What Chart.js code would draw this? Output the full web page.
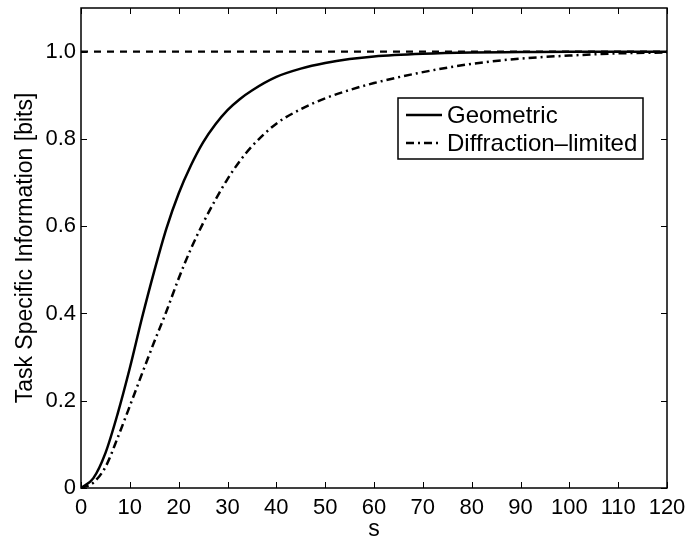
<!DOCTYPE html>
<html>
<head>
<meta charset="utf-8">
<script src="https://cdn.jsdelivr.net/npm/chart.js@4/dist/chart.umd.min.js"></script>
<style>
  html, body { margin: 0; padding: 0; background: #fff; }
  #wrap { width: 689px; height: 543px; }
</style>
</head>
<body>
<div id="wrap"><canvas id="grafico" width="689" height="543"></canvas></div>
<script>
// valores
const sValues = [0, 2.5, 5, 7.5, 10, 12.5, 15, 17.5, 20, 22.5, 25, 27.5, 30, 32.5, 35, 40, 45, 50, 55, 60, 70, 80, 90, 100, 110, 120];
const geometric = [0, 0.022, 0.08, 0.17, 0.275, 0.39, 0.497, 0.595, 0.675, 0.739, 0.792, 0.833, 0.866, 0.891, 0.911, 0.942, 0.961, 0.974, 0.983, 0.989, 0.995, 0.998, 0.999, 1.0, 1.0, 1.0];
const diffraction = [0, 0.012, 0.048, 0.115, 0.188, 0.262, 0.335, 0.405, 0.48, 0.548, 0.607, 0.66, 0.708, 0.749, 0.783, 0.835, 0.868, 0.893, 0.912, 0.928, 0.953, 0.972, 0.984, 0.991, 0.996, 0.998];
const refLevel = 1.0;
const xTicks = [0, 10, 20, 30, 40, 50, 60, 70, 80, 90, 100, 110, 120];
const yTicks = [0, 0.2, 0.4, 0.6, 0.8, 1.0];
const legendLabels = ['Geometric', 'Diffraction\u2013limited'];

const FONT = 'Liberation Sans, Arial, Helvetica, sans-serif';

const toPoints = (xs, ys) => xs.map((x, i) => ({ x: x, y: ys[i] }));

// ejes tipo MATLAB: caja y marcas hacia dentro
const boxPlugin = {
    id: 'boxPlugin',
    afterDraw(chart) {
        const { ctx, chartArea: a, scales } = chart;
        const len = 6;
        ctx.save();
        ctx.strokeStyle = '#000';
        ctx.lineWidth = 1.5;
        ctx.strokeRect(a.left, a.top, a.right - a.left, a.bottom - a.top);
        ctx.lineWidth = 1;
        ctx.beginPath();
        xTicks.forEach(v => {
            const px = Math.round(scales.x.getPixelForValue(v)) + 0.5;
            ctx.moveTo(px, a.bottom); ctx.lineTo(px, a.bottom - len);
            ctx.moveTo(px, a.top); ctx.lineTo(px, a.top + len);
        });
        yTicks.forEach(v => {
            const py = Math.round(scales.y.getPixelForValue(v)) + 0.5;
            ctx.moveTo(a.left, py); ctx.lineTo(a.left + len, py);
            ctx.moveTo(a.right, py); ctx.lineTo(a.right - len, py);
        });
        ctx.stroke();

        // leyenda
        const bx = a.right - 269, by = a.top + 90, bw = 245, bh = 61;
        ctx.fillStyle = '#fff';
        ctx.fillRect(bx, by, bw, bh);
        ctx.lineWidth = 1.5;
        ctx.strokeRect(bx, by, bw, bh);
        const ds = chart.data.datasets;
        legendLabels.forEach((lab, i) => {
            const y = by + 17 + i * 28;
            ctx.beginPath();
            ctx.setLineDash(ds[i].borderDash || []);
            ctx.lineWidth = ds[i].borderWidth;
            ctx.moveTo(bx + 8, y);
            ctx.lineTo(bx + 44, y);
            ctx.stroke();
            ctx.setLineDash([]);
            ctx.fillStyle = '#000';
            ctx.font = '24px ' + FONT;
            ctx.textBaseline = 'middle';
            ctx.fillText(lab, bx + 49, y + 1);
        });
        ctx.restore();
    }
};

const chart = new Chart(document.getElementById('grafico').getContext('2d'), {
    type: 'line',
    data: {
        datasets: [{
            label: legendLabels[0],
            data: toPoints(sValues, geometric),
            borderColor: '#000',
            borderWidth: 2.5,
            pointRadius: 0,
            fill: false,
            cubicInterpolationMode: 'monotone'
        }, {
            label: legendLabels[1],
            data: toPoints(sValues, diffraction),
            borderColor: '#000',
            borderWidth: 2.5,
            borderDash: [8, 4, 2, 4],
            pointRadius: 0,
            fill: false,
            cubicInterpolationMode: 'monotone'
        }, {
            label: 'ref',
            data: toPoints([xTicks[0], xTicks[xTicks.length - 1]], [refLevel, refLevel]),
            borderColor: '#000',
            borderWidth: 2.3,
            borderDash: [7, 6],
            pointRadius: 0,
            fill: false
        }]
    },
    options: {
        responsive: false,
        animation: false,
        events: [],
        layout: { padding: { top: 8, right: 22, left: 0, bottom: 0 } },
        plugins: { legend: { display: false }, tooltip: { enabled: false } },
        scales: {
            x: {
                type: 'linear',
                min: 0,
                max: 120,
                afterBuildTicks: s => { s.ticks = xTicks.map(v => ({ value: v })); },
                afterFit: s => { s.height = 55; s.paddingLeft = 0; s.paddingRight = 0; },
                grid: { display: false, drawTicks: false },
                border: { display: false },
                ticks: { color: '#000', font: { family: FONT, size: 22 }, padding: 7, maxRotation: 0, autoSkip: false },
                title: { display: true, text: 's', color: '#000', font: { family: FONT, size: 23 }, padding: 0 }
            },
            y: {
                min: 0,
                max: 1.1,
                afterBuildTicks: s => { s.ticks = yTicks.map(v => ({ value: v })); },
                afterFit: s => { s.width = 81; s.paddingTop = 0; s.paddingBottom = 0; },
                grid: { display: false, drawTicks: false },
                border: { display: false },
                ticks: {
                    color: '#000', font: { family: FONT, size: 22 }, padding: 5, autoSkip: false,
                    callback: v => (v === 0 ? '0' : v.toFixed(1))
                },
                title: { display: true, text: 'Task Specific Information [bits]', color: '#000', font: { family: FONT, size: 23 }, padding: { top: 12, bottom: 0 } }
            }
        }
    },
    plugins: [boxPlugin]
});
</script>
</body>
</html>
